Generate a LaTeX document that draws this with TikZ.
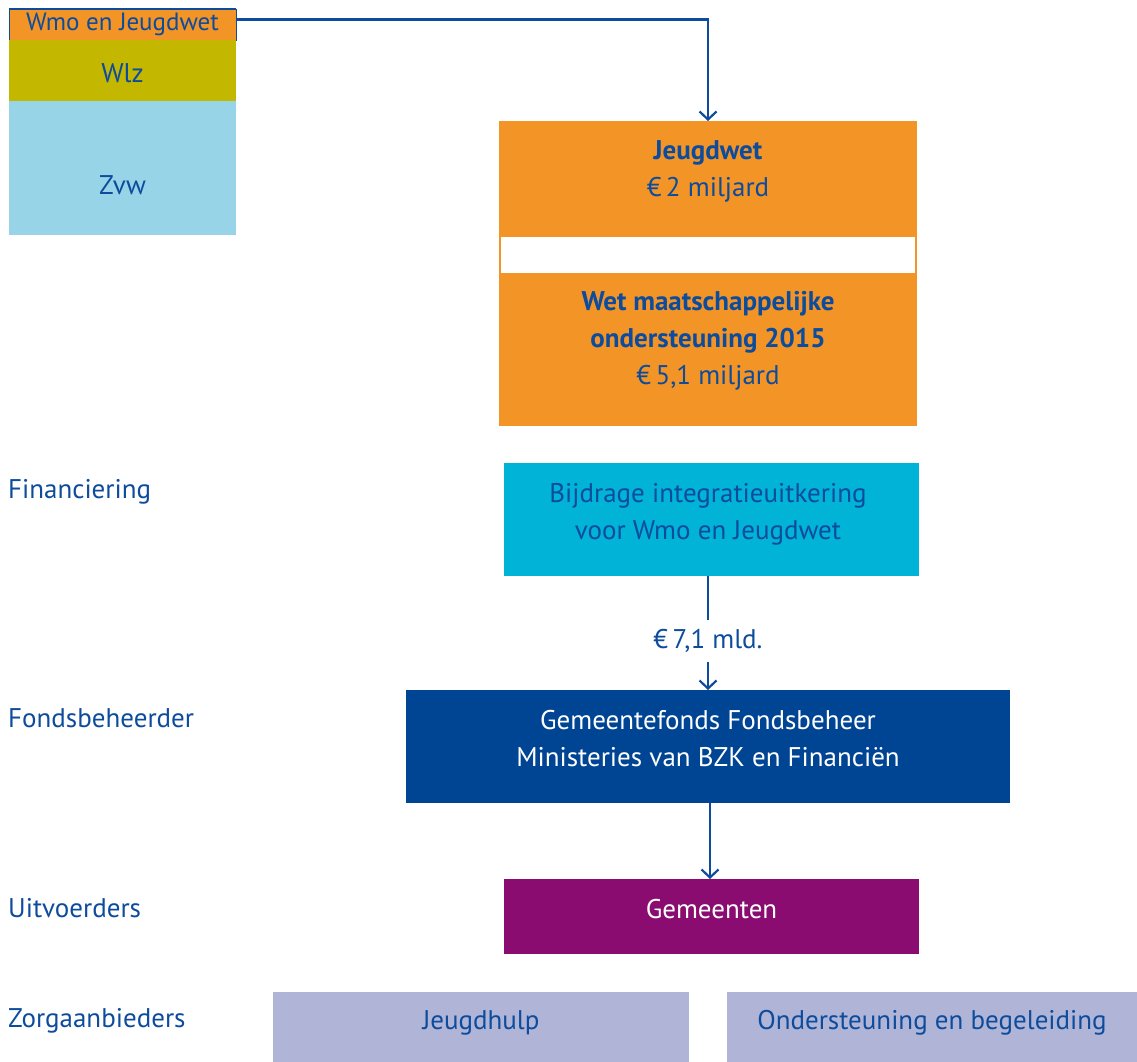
\documentclass[tikz,border=0pt]{standalone}
\usepackage{fontspec}
\setmainfont{PT Sans}
\usetikzlibrary{arrows.meta}
\definecolor{tblue}{HTML}{0D4C9C}
\definecolor{corange}{HTML}{F39427}
\definecolor{colive}{HTML}{C4B700}
\definecolor{clight}{HTML}{97D4E8}
\definecolor{ccyan}{HTML}{00B3D7}
\definecolor{cnavy}{HTML}{004494}
\definecolor{cpurple}{HTML}{8A0C70}
\definecolor{clav}{HTML}{B0B4D7}
\tikzset{
  box/.style={rectangle, inner sep=0pt, outer sep=0pt, align=center, text=tblue,
    font=\fontsize{27}{37}\selectfont},
  lbl/.style={anchor=west, inner sep=0pt, text=tblue, font=\fontsize{27}{37}\selectfont},
  conn/.style={draw=tblue, line width=2.2pt, -{Straight Barb[length=8pt,width=17pt,line width=2.2pt]}},
}
\begin{document}
\begin{tikzpicture}[x=1pt,y=-1pt]
\useasboundingbox (0,0) rectangle (1137,1062);
% top-left stack
\node[box, fill=corange, draw=tblue, line width=0.8pt, minimum width=227pt, minimum height=31pt,
  font=\fontsize{25}{30}\selectfont] (wmo) at (122.5,24.5) {Wmo en Jeugdwet};
\draw[tblue, line width=2pt] (wmo.north west) -- (wmo.north east);
\node[box, fill=colive, minimum width=227pt, minimum height=61pt] (wlz) at (122.5,70.5) {};
\node[box] (wlzt) at (122.5,73) {Wlz};
\node[box, fill=clight, minimum width=227pt, minimum height=134pt] (zvw) at (122.5,168) {};
\node[box] (zvwt) at (122.5,185) {Zvw};
% orange box
\node[box, fill=corange, minimum width=418pt, minimum height=305pt] (org) at (708,273.5) {};
\node[box, fill=white, minimum width=414pt, minimum height=36pt] (band) at (708,255) {};
\node[box, anchor=center] (jw) at (708,171) {\textbf{Jeugdwet}\\€\,2 miljard};
\node[box, anchor=center] (wmo2) at (708,341) {\textbf{Wet maatschappelijke}\\\textbf{ondersteuning 2015}\\€\,5,1 miljard};
\draw[conn] ([yshift=5pt]wmo.east) -| (org.north);
% financiering
\node[lbl] (l1) at (8,492) {Financiering};
\node[box, fill=ccyan, minimum width=415pt, minimum height=113pt] (bij) at (711.5,519.5) {};
\node[box] (bijt) at (708,514) {Bijdrage integratieuitkering\\voor Wmo en Jeugdwet};
\node[box, inner sep=9pt] (mld) at (708,641) {€\,7,1 mld.};
% fondsbeheerder
\node[lbl] (l2) at (8,718) {Fondsbeheerder};
\node[box, fill=cnavy, minimum width=604pt, minimum height=113pt] (gf) at (708,746.5) {};
\node[box, text=white] (gft) at (708,739) {Gemeentefonds Fondsbeheer\\Ministeries van BZK en Financiën};
\draw[draw=tblue, line width=2.2pt] (bij.south -| mld) -- (mld.north);
\draw[conn] (mld.south) -- (gf.north -| mld);
% uitvoerders
\node[lbl] (l3) at (8,908) {Uitvoerders};
\node[box, fill=cpurple, minimum width=415pt, minimum height=75pt] (gem) at (711.5,916.5) {};
\node[box, text=white] (gemt) at (711.5,909) {Gemeenten};
\draw[conn] ([xshift=2pt]gf.south) -- ([xshift=-1.5pt]gem.north);
% zorgaanbieders
\node[lbl] (l4) at (8,1021) {Zorgaanbieders};
\node[box, fill=clav, minimum width=416pt, minimum height=70pt] (jh) at (481,1027) {};
\node[box] (jht) at (481,1023) {Jeugdhulp};
\node[box, fill=clav, minimum width=410pt, minimum height=70pt] (ob) at (932,1027) {};
\node[box] (obt) at (932,1023) {Ondersteuning en begeleiding};
\end{tikzpicture}
\end{document}
